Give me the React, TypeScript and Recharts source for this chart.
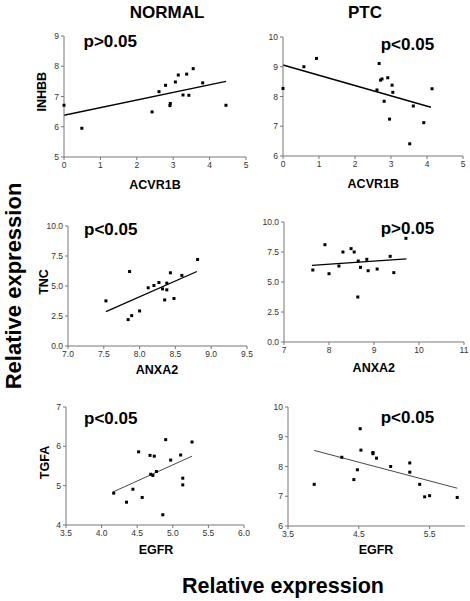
import React from 'react';
import { ScatterChart, Scatter, XAxis, YAxis, ReferenceLine } from 'recharts';

// NORMAL: INHBB vs ACVR1B
const normAcvr1b = [0, 0.49, 2.42, 2.61, 2.79, 2.91, 2.92, 3.06, 3.14, 3.27, 3.37, 3.43, 3.55, 3.81, 4.45];
const normInhbb = [6.71, 5.95, 6.49, 7.16, 7.37, 6.7, 6.77, 7.48, 7.71, 7.05, 7.74, 7.04, 7.92, 7.45, 6.71];
const normInhbbFitX = [0, 4.45];
const normInhbbFitY = [6.38, 7.5];

// PTC: INHBB vs ACVR1B
const ptcAcvr1b = [0, 0.58, 0.93, 2.61, 2.67, 2.71, 2.75, 2.81, 2.91, 2.96, 3.03, 3.05, 3.52, 3.62, 3.91, 4.14];
const ptcInhbb = [8.27, 9.0, 9.28, 8.22, 9.11, 8.55, 8.59, 7.84, 8.63, 7.24, 8.38, 8.14, 6.41, 7.68, 7.12, 8.26];
const ptcInhbbFitX = [0, 4.11];
const ptcInhbbFitY = [9.06, 7.64];

// NORMAL: TNC vs ANXA2
const normAnxa2 = [7.53, 7.84, 7.86, 7.89, 8.0, 8.12, 8.2, 8.27, 8.32, 8.38, 8.38, 8.35, 8.43, 8.48, 8.59, 8.81];
const normTnc = [3.76, 2.2, 6.21, 2.53, 2.92, 4.85, 5.04, 5.29, 4.76, 5.24, 4.68, 3.84, 6.1, 3.96, 5.88, 7.21];
const normTncFitX = [7.53, 8.8];
const normTncFitY = [2.87, 6.21];

// PTC: TNC vs ANXA2
const ptcAnxa2 = [7.64, 7.91, 8.0, 8.22, 8.31, 8.49, 8.56, 8.65, 8.64, 8.7, 8.84, 8.87, 9.07, 9.36, 9.44, 9.71];
const ptcTnc = [6.0, 8.11, 5.69, 6.33, 7.5, 7.78, 7.5, 6.75, 3.75, 6.22, 6.89, 5.94, 6.08, 7.14, 5.78, 8.64];
const ptcTncFitX = [7.62, 9.72];
const ptcTncFitY = [6.39, 6.92];

// NORMAL: TGFA vs EGFR
const normEgfr = [4.17, 4.35, 4.44, 4.52, 4.57, 4.68, 4.69, 4.72, 4.74, 4.77, 4.86, 4.9, 4.97, 5.11, 5.14, 5.14, 5.27];
const normTgfa = [4.81, 4.58, 4.91, 5.86, 4.7, 5.77, 5.29, 5.26, 5.75, 5.36, 4.26, 6.17, 5.65, 5.78, 5.19, 5.02, 6.11];
const normTgfaFitX = [4.16, 5.27];
const normTgfaFitY = [4.84, 5.75];

// PTC: TGFA vs EGFR
const ptcEgfr = [3.87, 4.26, 4.43, 4.48, 4.52, 4.53, 4.7, 4.7, 4.75, 4.95, 5.22, 5.22, 5.36, 5.43, 5.5, 5.89];
const ptcTgfa = [7.4, 8.31, 7.56, 7.89, 9.27, 8.55, 8.47, 8.43, 8.28, 8.0, 8.12, 7.81, 7.4, 6.98, 7.02, 6.96];
const ptcTgfaFitX = [3.87, 5.89];
const ptcTgfaFitY = [8.54, 7.27];

// axis ticks
const acvr1bTicks = [0, 1, 2, 3, 4, 5];
const inhbbNormTicks = [5, 6, 7, 8, 9];
const inhbbPtcTicks = [6, 7, 8, 9, 10];
const anxa2NormTicks = [7.0, 7.5, 8.0, 8.5, 9.0, 9.5];
const anxa2PtcTicks = [7, 8, 9, 10, 11];
const tncTicks = [0, 2.5, 5, 7.5, 10];
const egfrNormTicks = [3.5, 4.0, 4.5, 5.0, 5.5, 6.0];
const egfrPtcTicks = [3.5, 4.5, 5.5];
const tgfaNormTicks = [4, 5, 6, 7];
const tgfaPtcTicks = [6, 7, 8, 9, 10];

const FONT = '"Liberation Sans", Arial, Helvetica, sans-serif';
const YW = 34;
const XH = 22;
const MT = 8;
const MR = 8;

const Square = (props: any) => {
  const { cx, cy } = props;
  if (cx == null || cy == null) return <g />;
  return <rect x={cx - 1.5} y={cy - 1.5} width={3} height={3} fill="#000" />;
};

type PanelProps = {
  xs: number[];
  ys: number[];
  fitX: number[];
  fitY: number[];
  xDomain: [number, number];
  yDomain: [number, number];
  xTicks: number[];
  yTicks: number[];
  xDigits: number;
  yDigits: number;
  box: [number, number, number, number];
  fitWidth: number;
  fitColor: string;
};

const Panel: React.FC<PanelProps> = ({
  xs, ys, fitX, fitY, xDomain, yDomain, xTicks, yTicks, xDigits, yDigits, box, fitWidth, fitColor,
}) => {
  const [l, t, r, b] = box;
  const data = xs.map((x, i) => ({ x, y: ys[i] }));
  const tickStyle = { fontSize: 8.5, fill: '#333', fontFamily: FONT };
  return (
    <div style={{ position: 'absolute', left: l - YW, top: t - MT }}>
      <ScatterChart
        width={YW + (r - l) + MR}
        height={MT + (b - t) + XH}
        margin={{ top: MT, right: MR, bottom: 0, left: 0 }}
      >
        <XAxis
          type="number"
          dataKey="x"
          domain={xDomain}
          ticks={xTicks}
          interval={0}
          height={XH}
          tickSize={3}
          tickMargin={2}
          tick={tickStyle}
          tickFormatter={(v: number) => v.toFixed(xDigits)}
          axisLine={{ stroke: '#777' }}
          tickLine={{ stroke: '#777' }}
        />
        <YAxis
          type="number"
          dataKey="y"
          domain={yDomain}
          ticks={yTicks}
          interval={0}
          width={YW}
          tickSize={3}
          tickMargin={2}
          tick={tickStyle}
          tickFormatter={(v: number) => v.toFixed(yDigits)}
          axisLine={{ stroke: '#777' }}
          tickLine={{ stroke: '#777' }}
        />
        <ReferenceLine
          segment={[{ x: fitX[0], y: fitY[0] }, { x: fitX[1], y: fitY[1] }]}
          stroke={fitColor}
          strokeWidth={fitWidth}
          ifOverflow="visible"
        />
        <Scatter data={data} shape={<Square />} isAnimationActive={false} />
      </ScatterChart>
    </div>
  );
};

const bold = { fontFamily: FONT, fontWeight: 700, fill: '#000' } as const;

export default function App() {
  return (
    <div style={{ position: 'absolute', left: 0, top: 0, width: 470, height: 601, background: '#fff', fontFamily: FONT }}>
      <Panel xs={normAcvr1b} ys={normInhbb} fitX={normInhbbFitX} fitY={normInhbbFitY}
        xDomain={[0, 5]} yDomain={[5, 9]} xTicks={acvr1bTicks} yTicks={inhbbNormTicks}
        xDigits={0} yDigits={0} box={[64, 36, 246, 157]} fitWidth={1.4} fitColor="#000" />
      <Panel xs={ptcAcvr1b} ys={ptcInhbb} fitX={ptcInhbbFitX} fitY={ptcInhbbFitY}
        xDomain={[0, 5]} yDomain={[6, 10]} xTicks={acvr1bTicks} yTicks={inhbbPtcTicks}
        xDigits={0} yDigits={0} box={[283, 37, 463, 156]} fitWidth={1.4} fitColor="#000" />
      <Panel xs={normAnxa2} ys={normTnc} fitX={normTncFitX} fitY={normTncFitY}
        xDomain={[7, 9.5]} yDomain={[0, 10]} xTicks={anxa2NormTicks} yTicks={tncTicks}
        xDigits={1} yDigits={1} box={[68, 226, 247, 346]} fitWidth={1.3} fitColor="#000" />
      <Panel xs={ptcAnxa2} ys={ptcTnc} fitX={ptcTncFitX} fitY={ptcTncFitY}
        xDomain={[7, 11]} yDomain={[0, 10]} xTicks={anxa2PtcTicks} yTicks={tncTicks}
        xDigits={0} yDigits={1} box={[284, 222, 464, 342]} fitWidth={1.3} fitColor="#000" />
      <Panel xs={normEgfr} ys={normTgfa} fitX={normTgfaFitX} fitY={normTgfaFitY}
        xDomain={[3.5, 6]} yDomain={[4, 7]} xTicks={egfrNormTicks} yTicks={tgfaNormTicks}
        xDigits={1} yDigits={0} box={[66, 407, 244, 525]} fitWidth={0.9} fitColor="#333" />
      <Panel xs={ptcEgfr} ys={ptcTgfa} fitX={ptcTgfaFitX} fitY={ptcTgfaFitY}
        xDomain={[3.5, 6]} yDomain={[6, 10]} xTicks={egfrPtcTicks} yTicks={tgfaPtcTicks}
        xDigits={1} yDigits={0} box={[288, 407, 465, 526]} fitWidth={0.9} fitColor="#333" />

      <svg width={470} height={601} style={{ position: 'absolute', left: 0, top: 0, pointerEvents: 'none' }}>
        <text x={167} y={17.5} fontSize={17} textAnchor="middle" {...bold}>NORMAL</text>
        <text x={365} y={17.5} fontSize={17} textAnchor="middle" {...bold}>PTC</text>

        <text x={83.5} y={46.7} fontSize={17} {...bold}>p&gt;0.05</text>
        <text x={380.7} y={50} fontSize={17} {...bold}>p&lt;0.05</text>
        <text x={84} y={234.5} fontSize={17} {...bold}>p&lt;0.05</text>
        <text x={380.7} y={234.3} fontSize={17} {...bold}>p&gt;0.05</text>
        <text x={84} y={424} fontSize={17} {...bold}>p&lt;0.05</text>
        <text x={380.7} y={423.3} fontSize={17} {...bold}>p&lt;0.05</text>

        <text x={155} y={188.5} fontSize={12.5} textAnchor="middle" {...bold}>ACVR1B</text>
        <text x={373.3} y={188} fontSize={12.5} textAnchor="middle" {...bold}>ACVR1B</text>
        <text x={157} y={374} fontSize={12.5} textAnchor="middle" {...bold}>ANXA2</text>
        <text x={373.8} y={371.7} fontSize={12.5} textAnchor="middle" {...bold}>ANXA2</text>
        <text x={156} y={554} fontSize={12.5} textAnchor="middle" {...bold}>EGFR</text>
        <text x={376} y={554} fontSize={12.5} textAnchor="middle" {...bold}>EGFR</text>

        <text x={46.5} y={91.7} fontSize={12.5} textAnchor="middle" transform="rotate(-90 46.5 91.7)" {...bold}>INHBB</text>
        <text x={48.3} y={282} fontSize={12.5} textAnchor="middle" transform="rotate(-90 48.3 282)" {...bold}>TNC</text>
        <text x={49} y={462.5} fontSize={12.5} textAnchor="middle" transform="rotate(-90 49 462.5)" {...bold}>TGFA</text>

        <text x={20.5} y={286} fontSize={22} textAnchor="middle" transform="rotate(-90 20.5 286)" {...bold}>Relative expression</text>
        <text x={283} y={593.3} fontSize={21.5} textAnchor="middle" {...bold}>Relative expression</text>
      </svg>
    </div>
  );
}
